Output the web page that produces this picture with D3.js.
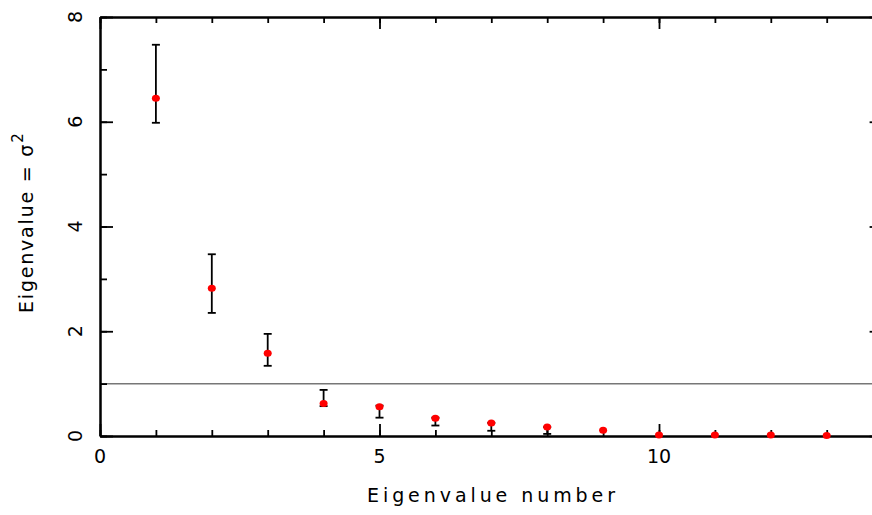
<!DOCTYPE html>
<html>
<head>
<meta charset="utf-8">
<script src="https://cdn.jsdelivr.net/npm/d3@7"></script>
<style>
body { margin: 0; background: #fff; }
text { font-family: "DejaVu Sans", sans-serif; fill: #000; }
</style>
</head>
<body>
<svg id="plot" width="872" height="515"></svg>
<script>
// eigenvalue spectrum
var eigNum  = [1, 2, 3, 4, 5, 6, 7, 8, 9, 10, 11, 12, 13];
var eigVal  = [6.45, 2.82, 1.58, 0.62, 0.56, 0.34, 0.25, 0.17, 0.11, 0.02, 0.02, 0.02, 0.01];
var errLow  = [5.98, 2.35, 1.34, 0.57, 0.35, 0.20, 0.10, 0.04, 0.11, 0.02, 0.02, 0.02, 0.01];
var errHigh = [7.47, 3.47, 1.95, 0.88, 0.58, 0.35, 0.25, 0.17, 0.11, 0.02, 0.02, 0.02, 0.01];
var xMajor = [0, 5, 10];
var yMajor = [0, 2, 4, 6, 8];
var refLine = 1;

var svg = d3.select("#plot");
var x = d3.scaleLinear().domain([0, 14]).range([100, 882.6]);
var y = d3.scaleLinear().domain([0, 8]).range([436, 17]);

// reference line at eigenvalue = 1
svg.append("line")
    .attr("x1", x(0)).attr("x2", x(14))
    .attr("y1", y(refLine)).attr("y2", y(refLine))
    .attr("stroke", "#777").attr("stroke-width", 1.5);

// axes: minor + major ticks drawn inward on all four sides
function styleAxis(g) {
    g.select(".domain").attr("stroke", "#000").attr("stroke-width", 2);
    g.selectAll(".tick line").attr("stroke", "#000").attr("stroke-width", 1.8);
    g.selectAll(".tick text").remove();
}
var xMinor = d3.range(0, 15);
var yMinor = d3.range(0, 9);

svg.append("g").attr("transform", "translate(0," + y(0) + ")")
    .call(d3.axisBottom(x).tickValues(xMinor).tickSize(-6).tickSizeOuter(0)).call(styleAxis);
svg.append("g").attr("transform", "translate(0," + y(0) + ")")
    .call(d3.axisBottom(x).tickValues(xMajor).tickSize(-12).tickSizeOuter(0)).call(styleAxis);
svg.append("g").attr("transform", "translate(0," + y(8) + ")")
    .call(d3.axisTop(x).tickValues(xMinor).tickSize(-6).tickSizeOuter(0)).call(styleAxis);
svg.append("g").attr("transform", "translate(0," + y(8) + ")")
    .call(d3.axisTop(x).tickValues(xMajor).tickSize(-12).tickSizeOuter(0)).call(styleAxis);
svg.append("g").attr("transform", "translate(" + x(0) + ",0)")
    .call(d3.axisLeft(y).tickValues(yMinor).tickSize(-7).tickSizeOuter(0)).call(styleAxis);
svg.append("g").attr("transform", "translate(" + x(0) + ",0)")
    .call(d3.axisLeft(y).tickValues(yMajor).tickSize(-13).tickSizeOuter(0)).call(styleAxis);
svg.append("g").attr("transform", "translate(" + x(14) + ",0)")
    .call(d3.axisRight(y).tickValues(yMinor).tickSize(-7).tickSizeOuter(0)).call(styleAxis);
svg.append("g").attr("transform", "translate(" + x(14) + ",0)")
    .call(d3.axisRight(y).tickValues(yMajor).tickSize(-13).tickSizeOuter(0)).call(styleAxis);

// tick labels
svg.append("g").selectAll("text")
    .data(xMajor)
    .enter()
    .append("text")
    .attr("x", function(d) { return x(d); })
    .attr("y", 463)
    .attr("text-anchor", "middle")
    .style("font-size", "19px")
    .text(function(d) { return d; });

svg.append("g").selectAll("text")
    .data(yMajor)
    .enter()
    .append("text")
    .attr("transform", function(d) { return "translate(82," + y(d) + ") rotate(-90)"; })
    .attr("text-anchor", "middle")
    .style("font-size", "19px")
    .text(function(d) { return d; });

// axis titles
svg.append("text")
    .attr("x", 367).attr("y", 502)
    .attr("textLength", 248).attr("lengthAdjust", "spacing")
    .style("font-size", "19px")
    .text("Eigenvalue number");

var yl = svg.append("text")
    .attr("transform", "translate(33,313) rotate(-90)")
    .style("font-size", "19px")
    .style("letter-spacing", "1.8px");
yl.append("tspan").text("Eigenvalue = \u03c3");
yl.append("tspan").attr("dy", -10).style("font-size", "15px").text("2");

// error bars
var bars = svg.append("g");
eigNum.forEach(function(n, i) {
    if (errHigh[i] - errLow[i] < 0.005) return;
    bars.append("line")
        .attr("x1", x(n)).attr("x2", x(n))
        .attr("y1", y(errLow[i])).attr("y2", y(errHigh[i]))
        .attr("stroke", "#000").attr("stroke-width", 1.8);
    [errLow[i], errHigh[i]].forEach(function(v) {
        bars.append("line")
            .attr("x1", x(n) - 4).attr("x2", x(n) + 4)
            .attr("y1", y(v)).attr("y2", y(v))
            .attr("stroke", "#000").attr("stroke-width", 1.8);
    });
});

// points
svg.append("g")
    .selectAll("ellipse")
    .data(eigNum)
    .enter()
    .append("ellipse")
    .attr("cx", function(d) { return x(d); })
    .attr("cy", function(d, i) { return y(eigVal[i]); })
    .attr("rx", 4)
    .attr("ry", 3.5)
    .attr("fill", "#ff0000");
</script>
</body>
</html>
